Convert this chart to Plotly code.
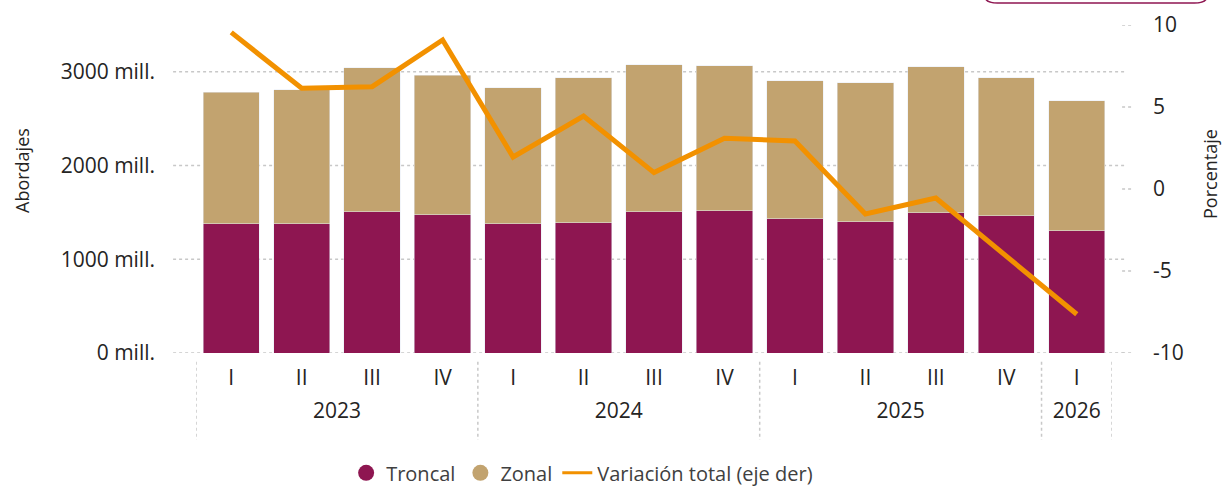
import plotly.graph_objects as go

years = ["2023"] * 4 + ["2024"] * 4 + ["2025"] * 4 + ["2026"]
quarters = ["I", "II", "III", "IV", "I", "II", "III", "IV", "I", "II", "III", "IV", "I"]
total = [2780, 2808, 3043, 2966, 2829, 2936, 3075, 3064, 2904, 2882, 3053, 2936, 2690]
troncal = [1378, 1377, 1505, 1473, 1377, 1388, 1505, 1516, 1430, 1398, 1495, 1463, 1302]
zonal = [t - r for t, r in zip(total, troncal)]
variacion = [9.55, 6.14, 6.24, 9.09, 1.95, 4.45, 1.0, 3.09, 2.93, -1.52, -0.55, -4.1, -7.64]

left_ticks = [0, 1000, 2000, 3000]
left_labels = ["0 mill.", "1000 mill.", "2000 mill.", "3000 mill."]
right_ticks = [-10, -5, 0, 5, 10]
right_labels = ["-10", "-5", "0", "5", "10"]

C_TRONCAL = "#8E1651"
C_ZONAL = "#C2A36F"
C_LINE = "#F29100"
FONT = "Open Sans"
TXT = "#252423"

idx = list(range(len(quarters)))
n = len(quarters)
# year groups: centre position and boundaries, from the category lists
year_names = []
year_pos = {}
for i, yv in enumerate(years):
    if yv not in year_pos:
        year_names.append(yv)
        year_pos[yv] = []
    year_pos[yv].append(i)
year_centers = [(min(year_pos[yv]) + max(year_pos[yv])) / 2 for yv in year_names]
year_bounds = [min(year_pos[yv]) - 0.5 for yv in year_names] + [n - 0.5]

fig = go.Figure()
fig.add_trace(go.Bar(x=idx, y=troncal, name="Troncal", marker_color=C_TRONCAL, showlegend=False))
fig.add_trace(go.Bar(x=idx, y=zonal, name="Zonal", marker_color=C_ZONAL, showlegend=False))
fig.add_trace(go.Scatter(x=idx, y=variacion, name="Variación total (eje der)", mode="lines",
                         line=dict(color=C_LINE, width=5), yaxis="y2", showlegend=False))
fig.add_trace(go.Scatter(x=[None], y=[None], xaxis="x2", yaxis="y", showlegend=False,
                         hoverinfo="skip"))
# legend entries (circles like the original)
fig.add_trace(go.Scatter(x=[None], y=[None], mode="markers", name="Troncal",
                         marker=dict(color=C_TRONCAL, size=22, symbol="circle")))
fig.add_trace(go.Scatter(x=[None], y=[None], mode="markers", name="Zonal",
                         marker=dict(color=C_ZONAL, size=22, symbol="circle")))
fig.add_trace(go.Scatter(x=[None], y=[None], mode="lines", name="Variación total (eje der)",
                         line=dict(color=C_LINE, width=3)))

shapes = []
grid_style = dict(color="#C8C8C8", width=1.5, dash="dot")
for v in left_ticks:
    shapes.append(dict(type="line", xref="paper", yref="y", x0=-0.025, x1=1.015, y0=v, y1=v,
                       line=grid_style, layer="below"))
for v in right_ticks:
    shapes.append(dict(type="line", xref="paper", yref="y2", x0=1.011, x1=1.024, y0=v, y1=v,
                       line=grid_style, layer="below"))
# dotted dividers between years
for b in year_bounds:
    shapes.append(dict(type="line", xref="x", yref="paper", x0=b, x1=b, y0=-0.027, y1=-0.265,
                       line=grid_style))
# partially visible button at the top right
shapes.append(dict(type="path", xref="paper", yref="paper",
                   path="M 0.861,1.09 L 0.861,1.13 L 1.104,1.13 L 1.104,1.09 Q 1.104,1.067 1.09,1.067 L 0.875,1.067 Q 0.861,1.067 0.861,1.09 Z",
                   line=dict(color=C_TRONCAL, width=1.5), fillcolor="white"))

annotations = [
    dict(text="Abordajes", xref="paper", yref="paper", x=(22 - 196) / 916, y=(353 - 171) / 328,
         xanchor="center", yanchor="middle", textangle=-90, showarrow=False,
         font=dict(size=18, color=TXT)),
    dict(text="Porcentaje", xref="paper", yref="paper", x=(1210 - 196) / 916, y=(353 - 174) / 328,
         xanchor="center", yanchor="middle", textangle=-90, showarrow=False,
         font=dict(size=18, color=TXT)),
]

xrange = [-0.5, n - 0.5]
fig.update_layout(
    width=1223, height=491,
    margin=dict(l=196, r=111, t=25, b=138, autoexpand=False),
    barmode="stack", bargap=0.2,
    plot_bgcolor="white", paper_bgcolor="white",
    font=dict(family=FONT, size=21, color=TXT),
    shapes=shapes,
    annotations=annotations,
    xaxis=dict(range=xrange, tickvals=idx, ticktext=quarters, showgrid=False, showline=False,
               zeroline=False, ticks="", ticklabelstandoff=10, tickfont=dict(size=21, color=TXT)),
    xaxis2=dict(range=xrange, overlaying="x", side="bottom", anchor="y", tickvals=year_centers,
                ticktext=year_names, showgrid=False, showline=False, zeroline=False, ticks="",
                ticklabelstandoff=43, tickfont=dict(size=21, color=TXT)),
    yaxis=dict(range=[0, 3500], tickvals=left_ticks, ticktext=left_labels, showgrid=False,
               zeroline=False, ticklabelstandoff=40, tickfont=dict(size=21, color=TXT)),
    yaxis2=dict(overlaying="y", side="right", range=[-10, 10], tickvals=right_ticks,
                ticktext=right_labels, showgrid=False, zeroline=False, ticklabelstandoff=40,
                tickfont=dict(size=21, color=TXT)),
    legend=dict(orientation="h", xref="container", yref="container", x=0.476, xanchor="center",
                y=0.037, yanchor="middle", font=dict(size=20, color="#404040"),
                itemsizing="trace", traceorder="normal"),
)

fig.write_html("out.html", config={"displayModeBar": False},
               post_script="document.body.style.margin='0';")
